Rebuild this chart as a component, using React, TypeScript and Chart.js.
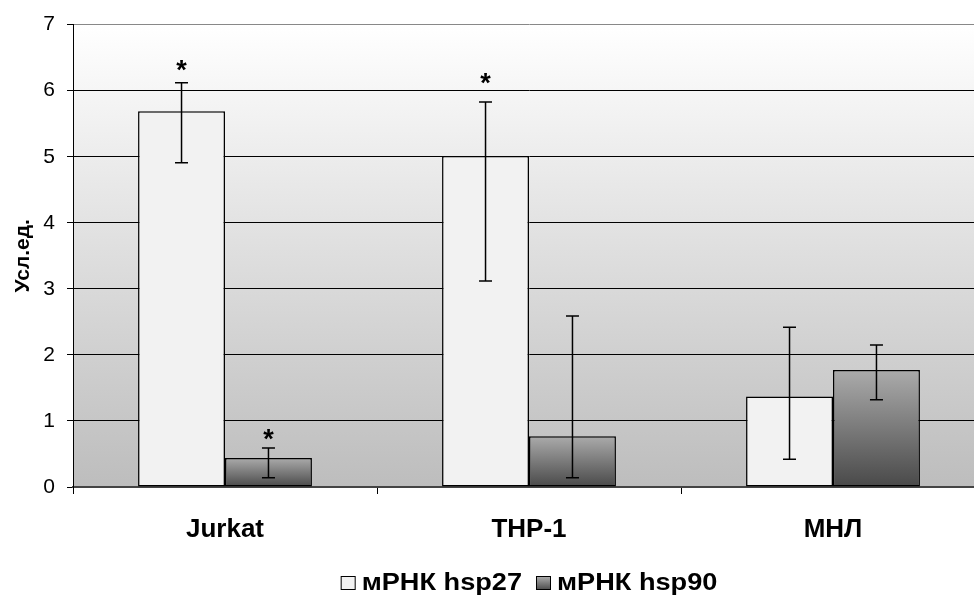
import React, { useEffect, useRef } from 'react';
import { Chart, registerables } from 'chart.js';
Chart.register(...registerables);

const categories = ['Jurkat', 'THP-1', 'МНЛ'];
const seriesNames = ['мРНК hsp27', 'мРНК hsp90'];
const hsp27 = [5.69, 5.01, 1.37];
const hsp90 = [0.44, 0.77, 1.77];
const hsp27ErrHigh = [6.12, 5.83, 2.42];
const hsp27ErrLow = [4.91, 3.12, 0.42];
const hsp90ErrHigh = [0.59, 2.59, 2.15];
const hsp90ErrLow = [0.14, 0.14, 1.32];
const hsp27Star: (number | null)[] = [6.42, 6.22, null];
const hsp90Star: (number | null)[] = [0.83, null, null];
const yMin = 0;
const yMax = 7;
const yStep = 1;
const yTitle = 'Усл.ед.';

const FONT = '"Liberation Sans", Arial, sans-serif';

const errHigh = [hsp27ErrHigh, hsp90ErrHigh];
const errLow = [hsp27ErrLow, hsp90ErrLow];
const stars = [hsp27Star, hsp90Star];

const bgPlugin = {
  id: 'bgGrad',
  beforeDraw(chart: any) {
    const { ctx, chartArea } = chart;
    if (!chartArea) return;
    const g = ctx.createLinearGradient(0, chartArea.top, 0, chartArea.bottom);
    g.addColorStop(0, '#ffffff');
    g.addColorStop(1, '#bdbdbd');
    ctx.save();
    ctx.fillStyle = g;
    ctx.fillRect(chartArea.left, chartArea.top, chartArea.right - chartArea.left, chartArea.bottom - chartArea.top);
    ctx.restore();
  },
};

const errPlugin = {
  id: 'errBars',
  afterDatasetsDraw(chart: any) {
    const { ctx } = chart;
    const y = chart.scales.y;
    ctx.save();
    ctx.strokeStyle = '#000';
    ctx.lineWidth = 1.5;
    chart.data.datasets.forEach((_: any, i: number) => {
      const meta = chart.getDatasetMeta(i);
      meta.data.forEach((el: any, j: number) => {
        const yt = y.getPixelForValue(errHigh[i][j]);
        const yb = y.getPixelForValue(errLow[i][j]);
        const x = el.x;
        const cap = 6.5;
        ctx.beginPath();
        ctx.moveTo(x, yt);
        ctx.lineTo(x, yb);
        ctx.moveTo(x - cap, yt);
        ctx.lineTo(x + cap, yt);
        ctx.moveTo(x - cap, yb);
        ctx.lineTo(x + cap, yb);
        ctx.stroke();
        const s = stars[i][j];
        if (s !== null && s !== undefined) {
          ctx.fillStyle = '#000';
          ctx.font = `bold 27px ${FONT}`;
          ctx.textAlign = 'center';
          ctx.textBaseline = 'alphabetic';
          ctx.fillText('*', x, y.getPixelForValue(s) + 16);
        }
      });
    });
    ctx.restore();
  },
};

const legendPlugin = {
  id: 'customLegend',
  afterDraw(chart: any) {
    const { ctx, chartArea } = chart;
    if (!chartArea) return;
    ctx.save();
    ctx.font = `bold 23px ${FONT}`;
    ctx.textBaseline = 'alphabetic';
    ctx.textAlign = 'left';
    const sx = 1.18;
    const boxW = 15;
    const boxH = 14;
    const gap = 6;
    const itemGap = 14;
    const items = chart.data.datasets.map((d: any) => ({ text: d.label, w: ctx.measureText(d.label).width * sx }));
    const total = items.reduce((a: number, it: any) => a + boxW + gap + it.w, 0) + itemGap * (items.length - 1);
    let x = (chartArea.left + chartArea.right) / 2 - total / 2;
    const baseline = 590;
    items.forEach((it: any, i: number) => {
      const by = baseline - boxH;
      if (i === 0) {
        ctx.fillStyle = '#f2f2f2';
      } else {
        const g = ctx.createLinearGradient(0, by, 0, by + boxH);
        g.addColorStop(0, '#b0b0b0');
        g.addColorStop(1, '#4a4a4a');
        ctx.fillStyle = g;
      }
      ctx.fillRect(x, by, boxW, boxH);
      ctx.strokeStyle = '#000';
      ctx.lineWidth = 1;
      ctx.strokeRect(x + 0.5, by + 0.5, boxW - 1, boxH - 1);
      x += boxW + gap;
      ctx.fillStyle = '#000';
      ctx.save();
      ctx.translate(x, baseline);
      ctx.scale(sx, 1);
      ctx.fillText(it.text, 0, 0);
      ctx.restore();
      x += it.w + itemGap;
    });
    ctx.restore();
  },
};

function hsp90Fill(context: any) {
  const chart = context.chart;
  const area = chart.chartArea;
  if (!area || context.dataIndex === undefined || !context.parsed) return '#808080';
  const y = chart.scales.y;
  const top = y.getPixelForValue(context.parsed.y);
  const bottom = y.getPixelForValue(0);
  if (!isFinite(top) || !isFinite(bottom) || top === bottom) return '#808080';
  const g = chart.ctx.createLinearGradient(0, top, 0, bottom);
  g.addColorStop(0, '#ababab');
  g.addColorStop(1, '#494949');
  return g;
}

export default function App() {
  const ref = useRef<HTMLCanvasElement | null>(null);
  useEffect(() => {
    if (!ref.current) return;
    const chart = new Chart(ref.current, {
      type: 'bar',
      data: {
        labels: categories,
        datasets: [
          {
            label: seriesNames[0],
            data: hsp27,
            backgroundColor: '#f2f2f2',
            borderColor: '#000',
            borderWidth: 1.5,
            borderSkipped: false,
            categoryPercentage: 0.572,
            barPercentage: 1,
          },
          {
            label: seriesNames[1],
            data: hsp90,
            backgroundColor: hsp90Fill as any,
            borderColor: '#000',
            borderWidth: 1.5,
            borderSkipped: false,
            categoryPercentage: 0.572,
            barPercentage: 1,
          },
        ],
      },
      options: {
        animation: false,
        responsive: true,
        maintainAspectRatio: false,
        layout: { padding: { left: 0, right: 15, top: 23, bottom: 0 } },
        plugins: {
          tooltip: { enabled: false },
          legend: { display: false },
        },
        scales: {
          x: {
            grid: {
              drawOnChartArea: false,
              offset: true,
              tickLength: 7,
              color: '#000',
            },
            border: { color: '#444', width: 2 },
            ticks: {
              color: '#000',
              padding: 20,
              font: { family: FONT, size: 26, weight: 'bold' },
            },
            afterFit: (s: any) => {
              s.height = 118;
            },
          },
          y: {
            min: yMin,
            max: yMax,
            ticks: {
              stepSize: yStep,
              color: '#000',
              padding: 12,
              font: { family: FONT, size: 21 },
            },
            grid: {
              color: (ctx: any) => (ctx.tick && ctx.tick.value === yMax ? '#888' : '#000'),
              tickColor: '#000',
              tickLength: 6,
              lineWidth: 1,
            },
            border: { color: '#000', width: 1 },
            title: {
              display: true,
              text: yTitle,
              color: '#000',
              font: { family: FONT, size: 21, weight: 'bold' },
              padding: { top: 11, bottom: 0 },
            },
            afterFit: (s: any) => {
              s.width = 73;
            },
          },
        },
      },
      plugins: [bgPlugin, errPlugin, legendPlugin],
    });
    return () => chart.destroy();
  }, []);
  return (
    <div style={{ position: 'absolute', left: 0, top: 0, width: 974, height: 605, overflow: 'hidden', background: '#fff' }}>
      <div style={{ width: 1000, height: 605 }}>
        <canvas ref={ref} />
      </div>
    </div>
  );
}
